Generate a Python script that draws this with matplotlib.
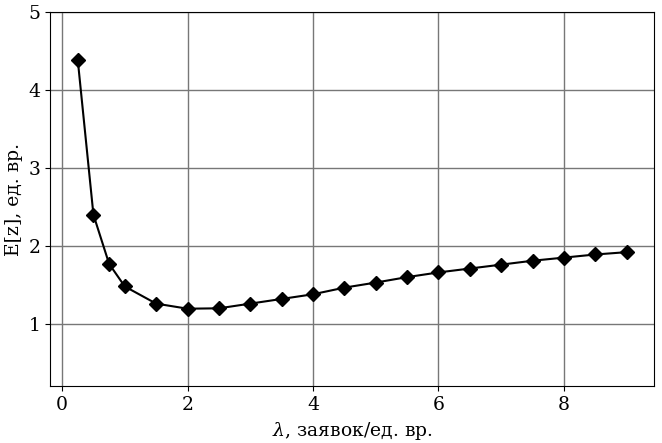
import matplotlib
matplotlib.use("Agg")
import matplotlib.pyplot as plt

lam = [0.25, 0.5, 0.75, 1.0, 1.5, 2.0, 2.5, 3.0, 3.5, 4.0, 4.5, 5.0, 5.5, 6.0, 6.5, 7.0, 7.5, 8.0, 8.5, 9.0]
ez = [4.385, 2.40, 1.77, 1.48, 1.26, 1.195, 1.20, 1.26, 1.32, 1.38, 1.465, 1.53, 1.60, 1.66, 1.71, 1.76, 1.81, 1.85, 1.89, 1.92]

plt.rcParams['font.family'] = 'DejaVu Serif'
plt.rcParams['mathtext.fontset'] = 'dejavuserif'

fig, ax = plt.subplots(figsize=(6.62, 4.43), dpi=100)
ax.plot(lam, ez, color='black', marker='D', markersize=7.5, linewidth=1.5)
ax.set_ylim(0.2, 5)
ax.set_yticks([1, 2, 3, 4, 5])
ax.grid(True, color='#777777', linewidth=1)
ax.tick_params(labelsize=13.5)
ax.set_xlabel(r'$\lambda$, заявок/ед. вр.', fontsize=13.5)
ax.set_ylabel('E[z], ед. вр.', fontsize=13.5)
fig.subplots_adjust(left=0.076, right=0.988, top=0.973, bottom=0.128)
fig.savefig('out.png', dpi=100)
